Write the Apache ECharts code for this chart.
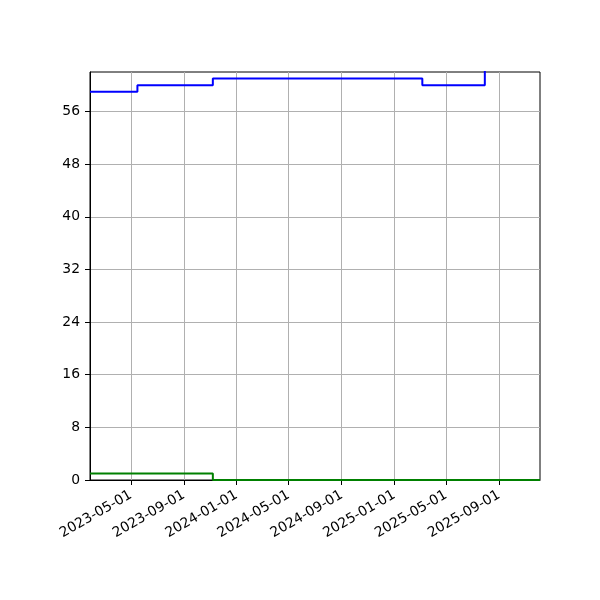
<!DOCTYPE html>
<html>
<head>
<meta charset="utf-8">
<script src="https://cdn.jsdelivr.net/npm/echarts@6/dist/echarts.min.js"></script>
<style>
html,body{margin:0;padding:0;background:#fff;}
#chart{width:600px;height:600px;}
</style>
</head>
<body>
<div id="chart"></div>
<script>
// ---- data ----
const blueDates = ['2023-01-26', '2023-05-16', '2023-11-07', '2025-03-07', '2025-07-30', '2025-12-05'];
const blueValues = [59, 60, 61, 60, 63, 63];
const greenDates = ['2023-01-26', '2023-11-07', '2025-12-05'];
const greenValues = [1, 0, 0];
const xTickLabels = ['2023-05-01', '2023-09-01', '2024-01-01', '2024-05-01', '2024-09-01', '2025-01-01', '2025-05-01', '2025-09-01'];
const yTickLabels = [0, 8, 16, 24, 32, 40, 48, 56];
const xStart = '2023-01-26';
const xEnd = '2025-12-05';
const yMin = 0;
const yMax = 62;

function ts(s) {
  const p = s.split('-').map(Number);
  return Date.UTC(p[0], p[1] - 1, p[2]);
}
function pad(n) { return (n < 10 ? '0' : '') + n; }
function fmt(v) {
  const d = new Date(v);
  return d.getUTCFullYear() + '-' + pad(d.getUTCMonth() + 1) + '-' + pad(d.getUTCDate());
}

const xTicks = xTickLabels.map(ts);
const font = 'DejaVu Sans';

const chart = echarts.init(document.getElementById('chart'), null, {renderer: 'canvas'});
chart.setOption({
  animation: false,
  backgroundColor: '#fff',
  grid: {
    left: 90, top: 72, right: 60, bottom: 120,
    show: true, borderColor: '#000', borderWidth: 1, backgroundColor: 'transparent',
    containLabel: false
  },
  xAxis: {
    type: 'value',
    min: ts(xStart),
    max: ts(xEnd),
    axisLine: {show: true, lineStyle: {color: '#000', width: 1}},
    axisTick: {show: true, length: 5, customValues: xTicks, lineStyle: {color: '#000', width: 1}},
    axisLabel: {
      customValues: xTicks,
      rotate: 30,
      margin: 14,
      color: '#000',
      fontFamily: font,
      fontSize: 13.9,
      formatter: function (v) { return fmt(v); }
    },
    splitLine: {show: true, lineStyle: {color: '#b0b0b0', width: 1}}
  },
  yAxis: {
    type: 'value',
    min: yMin,
    max: yMax,
    axisLine: {show: true, lineStyle: {color: '#000', width: 1}},
    axisTick: {show: true, length: 5, customValues: yTickLabels, lineStyle: {color: '#000', width: 1}},
    axisLabel: {
      customValues: yTickLabels,
      margin: 10,
      color: '#000',
      fontFamily: font,
      fontSize: 13.9
    },
    splitLine: {show: true, lineStyle: {color: '#b0b0b0', width: 1}}
  },
  series: [
    {
      type: 'line',
      step: 'end',
      showSymbol: false,
      clip: true,
      data: blueDates.map((d, i) => [ts(d), blueValues[i]]),
      lineStyle: {color: '#0000ff', width: 2},
      itemStyle: {color: '#0000ff'}
    },
    {
      type: 'line',
      step: 'end',
      showSymbol: false,
      clip: true,
      data: greenDates.map((d, i) => [ts(d), greenValues[i]]),
      lineStyle: {color: '#008000', width: 2},
      itemStyle: {color: '#008000'}
    }
  ]
});
</script>
</body>
</html>
